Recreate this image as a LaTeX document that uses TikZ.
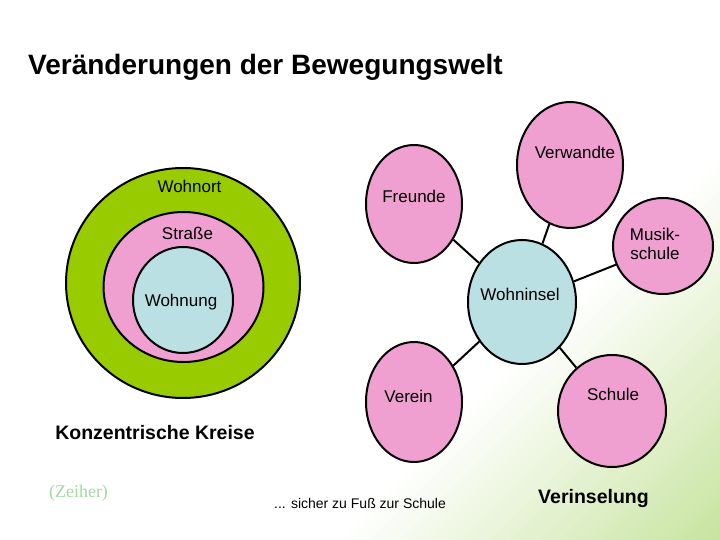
\documentclass[tikz,border=0pt]{standalone}
\usepackage{fontspec}
\setmainfont{Liberation Sans}
\newfontfamily\serifont{Liberation Serif}
\usepackage{tikz}
\usetikzlibrary{shapes,positioning,calc}

\definecolor{ringgreen}{RGB}{153,204,0}
\definecolor{ringpink}{RGB}{240,160,208}
\definecolor{ringblue}{RGB}{187,224,227}
\definecolor{bggreen}{RGB}{200,228,160}
\definecolor{srcgreen}{RGB}{165,215,165}

\begin{document}
\begin{tikzpicture}[
  x=1pt, y=-1pt,
  ring/.style={ellipse, draw=black, line width=2pt, inner sep=0pt},
  place/.style={ellipse, draw=black, line width=2pt, fill=ringpink, inner sep=0pt},
  link/.style={line width=2pt},
  lbl/.style={font=\fontsize{17}{19}\selectfont, anchor=base, inner sep=0pt, align=center},
  head/.style={font=\bfseries\fontsize{19.5}{22}\selectfont, anchor=base, inner sep=0pt}
]

  % Background
  \useasboundingbox (0,0) rectangle (720,540);
  \fill[white] (0,0) rectangle (720,540);
  \foreach \i [evaluate=\i as \c using 870+10*\i, evaluate=\i as \p using int(\i*100/38)] in {0,...,38}
    \fill[bggreen!\p!white] ({\c-540},540) -- (720,540) -- (720,{\c-720}) -- cycle;

  % Title
  \node[head, font=\bfseries\fontsize{28}{31}\selectfont, anchor=base west] (Titel) at (28,75) {Veränderungen der Bewegungswelt};

  % Concentric circles
  \node[ring, fill=ringgreen, minimum width=234pt, minimum height=230pt] (Wohnort) at (183,283) {};
  \node[ring, fill=ringpink, minimum width=160pt, minimum height=150pt] (Strasse) at (183.5,287) {};
  \node[ring, fill=ringblue, minimum width=100pt, minimum height=106pt] (Wohnung) at (183,300) {};
  \node[lbl] (tWohnort) at (189.5,193) {Wohnort};
  \node[lbl] (tStrasse) at (187.5,240) {Straße};
  \node[lbl] (tWohnung) at (181,306) {Wohnung};

  % Islands
  \node[place, fill=ringblue, minimum width=108pt, minimum height=124pt] (Insel) at (522,302) {};
  \node[place, minimum width=96pt, minimum height=118pt] (Freunde) at (414,204) {};
  \node[place, minimum width=106pt, minimum height=126pt] (Verwandte) at (570,165) {};
  \node[place, minimum width=100pt, minimum height=96pt] (Musik) at (663,246) {};
  \node[place, minimum width=96pt, minimum height=120pt] (Verein) at (414,402) {};
  \node[place, minimum width=108pt, minimum height=112pt] (Schule) at (612,411) {};

  % Links
  \draw[link] (Freunde) -- (Insel);
  \draw[link] (Verwandte) -- (Insel);
  \draw[link] (Musik) -- (Insel);
  \draw[link] (Verein) -- (Insel);
  \draw[link] (Schule) -- (Insel);

  % Island labels
  \node[lbl] (tInsel) at (520,300) {Wohninsel};
  \node[lbl] (tFreunde) at (414,203) {Freunde};
  \node[lbl] (tVerwandte) at (575,159) {Verwandte};
  \node[lbl, anchor=center] (tMusik) at (655,244) {Musik-\\schule};
  \node[lbl] (tVerein) at (408.5,402) {Verein};
  \node[lbl] (tSchule) at (613,400) {Schule};

  % Captions
  \node[head] (Konzentrisch) at (155,439) {Konzentrische Kreise};
  \node[head] (Verinselung) at (593.5,503) {Verinselung};
  \node[font=\serifont\fontsize{18}{20}\selectfont, text=srcgreen, anchor=base, inner sep=0pt] (Zeiher) at (78.5,497) {(Zeiher)};
  \node[font=\fontsize{14}{16}\selectfont, anchor=base, inner sep=0pt] (Fussweg) at (360,508) {... sicher zu Fuß zur Schule};

\end{tikzpicture}
\end{document}
